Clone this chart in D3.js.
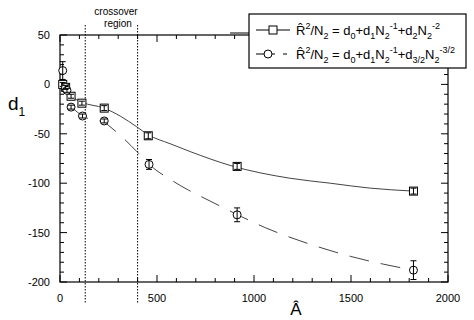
<!DOCTYPE html>
<html>
<head>
<meta charset="utf-8">
<script src="https://cdn.jsdelivr.net/npm/d3@7"></script>
<style>
  html, body { margin: 0; padding: 0; background: #fff; }
  svg { font-family: "Liberation Sans", Arial, sans-serif; }
</style>
</head>
<body>
<div id="chart"></div>
<script>
// squares: R^2/N2 = d0 + d1/N2 + d2/N2^2
const sqX = [14, 29, 57, 113, 228, 455, 913, 1822];
const sqY = [0, -3, -12, -19, -24, -52, -83, -108];
const sqErr = [2, 2, 2, 2, 2.5, 3, 3, 3];
// circles: R^2/N2 = d0 + d1/N2 + d3/2/N2^(3/2)
const ciX = [14, 29, 36, 57, 116, 228, 459, 913, 1822];
const ciY = [14, -3, -6, -23, -32, -37, -81, -132, -188];
const ciErr = [9, 2, 2, 2, 2, 2, 5, 7, 9.5];
// fitted curves
const fit1X = [29, 60, 113, 227, 310, 396, 455, 567, 671, 877, 1186, 1393, 1599, 1822];
const fit1Y = [-5, -12, -18, -24, -32, -43, -51, -60, -68, -82, -95, -100, -105, -108];
const fit2X = [60, 117, 169, 228, 241, 335, 396, 490, 559, 662, 722, 834, 937, 1058, 1161, 1324, 1496, 1668, 1822];
const fit2Y = [-23, -32, -36, -38, -40, -56, -68, -86, -95, -107, -113, -124, -134, -145, -153, -164, -174, -182, -188];
const crossover = [130, 400];
const xTicks = [0, 500, 1000, 1500, 2000];
const yTicks = [50, 0, -50, -100, -150, -200];

const W = 474, H = 320;
const margin = { top: 35, right: 26, bottom: 38, left: 60 };
const width = W - margin.left - margin.right;
const height = H - margin.top - margin.bottom;

const svg = d3.select("#chart").append("svg")
  .attr("width", W).attr("height", H);
const g = svg.append("g").attr("transform", `translate(${margin.left},${margin.top})`);

const x = d3.scaleLinear().domain([0, 2000]).range([0, width]);
const y = d3.scaleLinear().domain([-200, 50]).range([height, 0]);

// ticks (inside, on all four sides)
const minorY = d3.range(-200, 51, 10);
const minorX = d3.range(0, 2001, 100);
minorY.forEach(v => {
  const len = v % 50 === 0 ? 7 : 4;
  g.append("line").attr("x1", 0).attr("x2", len).attr("y1", y(v)).attr("y2", y(v)).attr("stroke", "#000");
  g.append("line").attr("x1", width).attr("x2", width - len).attr("y1", y(v)).attr("y2", y(v)).attr("stroke", "#000");
});
minorX.forEach(v => {
  const len = v % 500 === 0 ? 7 : 4;
  g.append("line").attr("x1", x(v)).attr("x2", x(v)).attr("y1", height).attr("y2", height - len).attr("stroke", "#000");
  g.append("line").attr("x1", x(v)).attr("x2", x(v)).attr("y1", 0).attr("y2", len).attr("stroke", "#000");
});
g.append("rect").attr("width", width).attr("height", height)
  .attr("fill", "none").attr("stroke", "#000").attr("stroke-width", 1.2);

// tick labels
g.selectAll(".ylab").data(yTicks).enter().append("text")
  .attr("x", -10).attr("y", d => y(d) + 4)
  .attr("text-anchor", "end").attr("font-size", 11).text(d => d);
g.selectAll(".xlab").data(xTicks).enter().append("text")
  .attr("x", d => x(d)).attr("y", height + 20)
  .attr("text-anchor", "middle").attr("font-size", 11).text(d => d);

// axis titles
svg.append("text").attr("x", 296).attr("y", 315).attr("text-anchor", "middle")
  .attr("font-size", 17).text("Â");
const d1 = svg.append("text").attr("x", 8).attr("y", 110).attr("font-size", 19);
d1.append("tspan").text("d");
d1.append("tspan").attr("dy", 6).attr("font-size", 12).text("1");

// crossover region
crossover.forEach(v => {
  g.append("line").attr("x1", x(v)).attr("x2", x(v)).attr("y1", -10).attr("y2", height + 21)
    .attr("stroke", "#000").attr("stroke-dasharray", "1.5,1.5");
});
svg.append("text").attr("x", 116).attr("y", 15).attr("text-anchor", "middle")
  .attr("font-size", 10).text("crossover");
svg.append("text").attr("x", 118).attr("y", 27).attr("text-anchor", "middle")
  .attr("font-size", 10).text("region");

// fit curves
const line = d3.line().x(d => x(d[0])).y(d => y(d[1])).curve(d3.curveMonotoneX);
g.append("path").datum(d3.zip(fit1X, fit1Y)).attr("d", line)
  .attr("fill", "none").attr("stroke", "#444").attr("stroke-width", 1);
g.append("path").datum(d3.zip(fit2X, fit2Y)).attr("d", line)
  .attr("fill", "none").attr("stroke", "#444").attr("stroke-width", 1)
  .attr("stroke-dasharray", "20,12");

// error bars
function errBars(xs, ys, es) {
  xs.forEach((v, i) => {
    const px = x(v), y1 = y(ys[i] + es[i]), y2 = y(ys[i] - es[i]);
    g.append("line").attr("x1", px).attr("x2", px).attr("y1", y1).attr("y2", y2).attr("stroke", "#000");
    [y1, y2].forEach(yy => g.append("line").attr("x1", px - 3).attr("x2", px + 3)
      .attr("y1", yy).attr("y2", yy).attr("stroke", "#000"));
  });
}
// markers
g.selectAll(".sq").data(d3.zip(sqX, sqY)).enter().append("rect")
  .attr("x", d => x(d[0]) - 4).attr("y", d => y(d[1]) - 4)
  .attr("width", 8).attr("height", 8)
  .attr("fill", "#fff").attr("stroke", "#000");
errBars(sqX, sqY, sqErr);
g.selectAll(".ci").data(d3.zip(ciX, ciY)).enter().append("circle")
  .attr("cx", d => x(d[0])).attr("cy", d => y(d[1])).attr("r", 4)
  .attr("fill", "#fff").attr("stroke", "#000");
errBars(ciX, ciY, ciErr);

// legend
const lg = svg.append("g");
svg.append("line").attr("x1", 230).attr("x2", 249).attr("y1", 33).attr("y2", 33).attr("stroke", "#000");
lg.append("rect").attr("x", 249).attr("y", 14).attr("width", 217).attr("height", 54)
  .attr("fill", "#fff").attr("stroke", "#000").attr("stroke-width", 1.2);

function richText(x0, y0, parts) {
  const t = lg.append("text").attr("x", x0).attr("y", y0).attr("font-size", 13);
  let cur = 0;
  parts.forEach(p => {
    const target = p[1] === "sub" ? 4 : p[1] === "sup" ? -6 : 0;
    t.append("tspan").attr("dy", target - cur)
      .attr("font-size", p[1] ? 9 : 13).text(p[0]);
    cur = target;
  });
  return t;
}
// row 1
lg.append("line").attr("x1", 256).attr("x2", 290).attr("y1", 30).attr("y2", 30).attr("stroke", "#000");
lg.append("rect").attr("x", 269).attr("y", 26).attr("width", 8).attr("height", 8)
  .attr("fill", "#fff").attr("stroke", "#000");
richText(296, 35, [["R\u0302"], ["2", "sup"], ["/N"], ["2", "sub"], [" = d"], ["0", "sub"], ["+d"], ["1", "sub"],
  ["N"], ["2", "sub"], ["-1", "sup"], ["+d"], ["2", "sub"], ["N"], ["2", "sub"], ["-2", "sup"]]);
// row 2
lg.append("line").attr("x1", 256).attr("x2", 275).attr("y1", 54).attr("y2", 54).attr("stroke", "#000");
lg.append("line").attr("x1", 283).attr("x2", 287).attr("y1", 54).attr("y2", 54).attr("stroke", "#000");
lg.append("circle").attr("cx", 268).attr("cy", 54).attr("r", 4)
  .attr("fill", "#fff").attr("stroke", "#000");
richText(296, 59, [["R\u0302"], ["2", "sup"], ["/N"], ["2", "sub"], [" = d"], ["0", "sub"], ["+d"], ["1", "sub"],
  ["N"], ["2", "sub"], ["-1", "sup"], ["+d"], ["3/2", "sub"], ["N"], ["2", "sub"], ["-3/2", "sup"]]);
</script>
</body>
</html>
